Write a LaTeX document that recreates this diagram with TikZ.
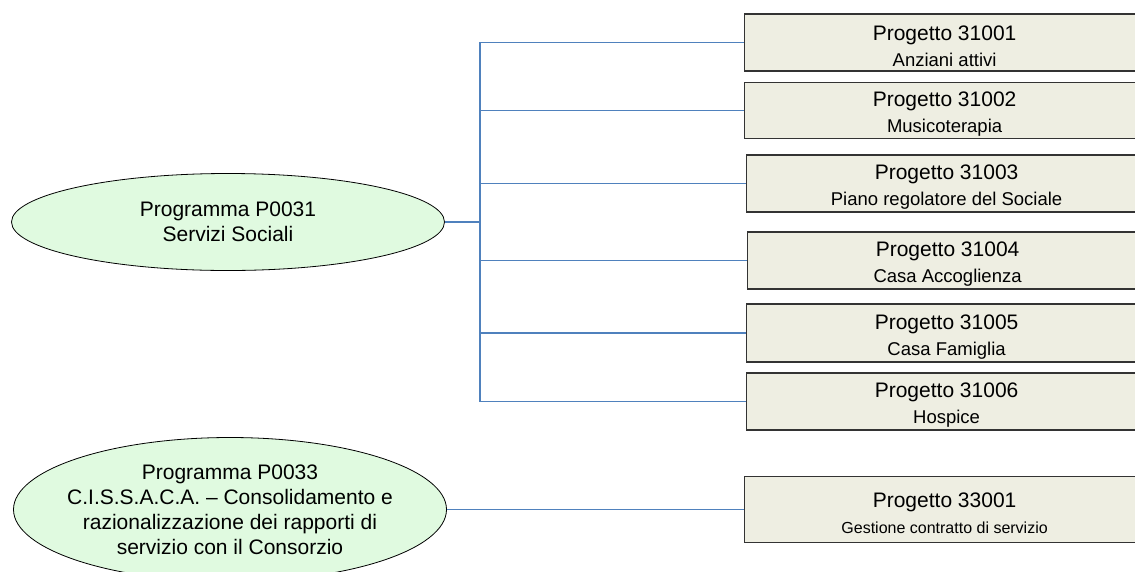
\documentclass[tikz,border=0pt]{standalone}
\usepackage{fontspec}
\setmainfont{Liberation Sans}
\usetikzlibrary{shapes.geometric}
\definecolor{progfill}{RGB}{224,250,224}
\definecolor{boxfill}{RGB}{238,238,226}
\definecolor{linkblue}{RGB}{79,129,189}
\tikzset{
  programma/.style={draw=black, line width=0.8pt, fill=progfill, ellipse, inner sep=0pt,
    minimum width=433pt, align=center, font=\fontsize{21}{25}\selectfont},
  progetto/.style={draw=black!80, line width=1.2pt, fill=boxfill, anchor=west, inner sep=0pt,
    minimum width=400pt, align=center, font=\fontsize{21}{26}\selectfont},
  link/.style={draw=linkblue, line width=1.2pt}
}
\newcommand{\progtext}[3][18.5]{\rule{0pt}{22pt}#2\\{\fontsize{#1}{26}\selectfont #3}}
\begin{document}
\begin{tikzpicture}[x=1pt, y=-1pt]
      \useasboundingbox (0,0) rectangle (1135,571);
      \node[programma, minimum height=97pt] (P31) at (228,222) {Programma P0031\\Servizi Sociali};
      \node[programma, minimum height=144pt, inner xsep=-10pt] (P33) at (230,509.5) {Programma P0033\\C.I.S.S.A.C.A. -- Consolidamento e\\razionalizzazione dei rapporti di\\servizio con il Consorzio};
      \node[progetto, minimum height=57pt] (G1) at (744,42.5) {\progtext{Progetto 31001}{Anziani attivi}};
      \node[progetto, minimum height=56pt] (G2) at (744,110.5) {\progtext{Progetto 31002}{Musicoterapia}};
      \node[progetto, minimum height=57pt] (G3) at (746,183.5) {\progtext{Progetto 31003}{Piano regolatore del Sociale}};
      \node[progetto, minimum height=57pt] (G4) at (747,260.5) {\progtext{Progetto 31004}{Casa Accoglienza}};
      \node[progetto, minimum height=58pt] (G5) at (746,333) {\progtext{Progetto 31005}{Casa Famiglia}};
      \node[progetto, minimum height=57pt] (G6) at (746,401.5) {\progtext{Progetto 31006}{Hospice}};
      \node[progetto, minimum height=66pt] (G7) at (744,509.5) {\progtext[16]{Progetto 33001}{Gestione contratto di servizio}};
      \coordinate (trunk) at (480,222);
      \draw[link] (P31.east) -- (trunk);
      \draw[link] (trunk) |- (G1.west);
      \draw[link] (trunk) |- (G2.west);
      \draw[link] (trunk) |- (G3.west);
      \draw[link] (trunk) |- (G4.west);
      \draw[link] (trunk) |- (G5.west);
      \draw[link] (trunk) |- (G6.west);
      \draw[link] (P33.east) -- (G7.west);
    \end{tikzpicture}
\end{document}
